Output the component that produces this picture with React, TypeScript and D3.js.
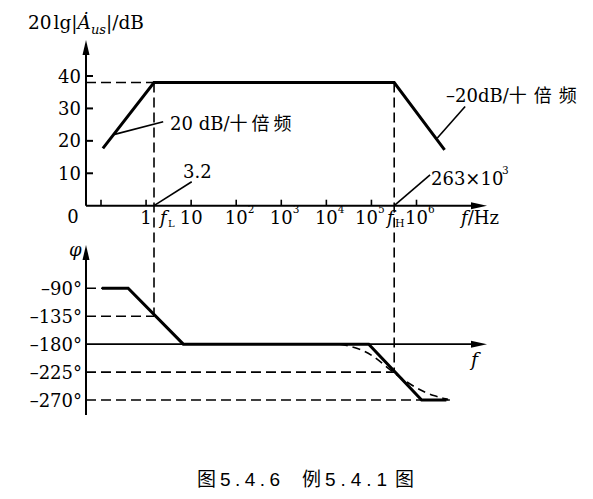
import React from "react";
import * as d3 from "d3";

// ---- data ----
const freqTicks = [0.1, 1, 10, 100, 1e3, 1e4, 1e5, 1e6];
const freqTickBase = ["", "1", "10", "10", "10", "10", "10", "10"];
const freqTickExp = ["", "", "", "2", "3", "4", "5", "6"];
const gainTicks = [10, 20, 30, 40];
const phaseTicks = [-90, -135, -180, -225, -270];
const phaseTickLabels = ["\u201390°", "\u2013135°", "\u2013180°", "\u2013225°", "\u2013270°"];

// drawn (not-to-scale) corner frequencies
const fL = 1.5;
const fH = 3.2e5;
const midbandGain = 38;

// asymptotic magnitude
const gainFreq = [0.11, fL, fH, 4.2e6];
const gainDb = [17.7, 38, 38, 17.2];

// asymptotic phase
const phaseFreq = [0.105, 0.4, 6.7, 8.7e4, 1.3e6, 4.6e6];
const phaseDeg = [-90, -90, -180, -180, -270, -270];

// actual (smooth) phase at high frequency, dashed
const phaseSmoothFreq = [2e4, 5e4, 1.1e5, 2.9e5, 1e6, 2.5e6, 5e6];
const phaseSmoothDeg = [-180, -186, -198, -225, -252, -264, -269];

const W = 593;
const H = 499;
const serif = "'DejaVu Serif', 'Liberation Serif', serif";
const cjk = "'Noto Sans CJK SC', sans-serif";
const sans = "'Liberation Sans', 'DejaVu Sans', sans-serif";

export default function App() {
  const x = d3.scaleLog().domain([0.1, 1e6]).range([101, 416.5]);
  const yG = d3.scaleLinear().domain([0, 40]).range([205.7, 76]);
  const yP = d3.scaleLinear().domain([-90, -270]).range([288.3, 400]);

  const axisX = 86;
  const xEnd = 487;

  const gainLine = d3
    .line<number>()
    .x((_, i) => x(gainFreq[i]))
    .y((d) => yG(d))(gainDb) as string;

  const phaseLine = d3
    .line<number>()
    .x((_, i) => x(phaseFreq[i]))
    .y((d) => yP(d))(phaseDeg) as string;

  const phaseSmooth = d3
    .line<number>()
    .curve(d3.curveBasis)
    .x((_, i) => x(phaseSmoothFreq[i]))
    .y((d) => yP(d))(phaseSmoothDeg) as string;

  const arrowUp = (cx: number, tip: number) =>
    `M${cx},${tip} L${cx - 3.5},${tip + 15} L${cx + 3.5},${tip + 15} Z`;
  const arrowRight = (tip: number, cy: number) =>
    `M${tip},${cy} L${tip - 16},${cy - 3.5} L${tip - 16},${cy + 3.5} Z`;

  const dash = "10,5";
  const ink = "#000";
  const fs = 18;

  return (
    <svg
      width={W}
      height={H}
      style={{ position: "absolute", left: 0, top: 0, background: "#fff" }}
      fontFamily={serif}
    >
      <rect x={0} y={0} width={W} height={H} fill="#fff" />

      {/* ===== magnitude plot ===== */}
      <text x={28} y={29} fontSize={18.5} fill={ink}>
        <tspan>20</tspan>
        <tspan dx={2}>lg|</tspan>
        <tspan fontStyle="italic">{"\u0226"}</tspan>
        <tspan fontStyle="italic" fontSize={13} dy={5}>us</tspan>
        <tspan dy={-5}>|/dB</tspan>
      </text>

      {/* axes */}
      <line x1={axisX} y1={yG(0)} x2={axisX} y2={50} stroke={ink} strokeWidth={2} />
      <path d={arrowUp(axisX, 40)} fill={ink} />
      <line x1={axisX} y1={yG(0)} x2={xEnd - 10} y2={yG(0)} stroke={ink} strokeWidth={2} />
      <path d={arrowRight(xEnd, yG(0))} fill={ink} />

      {/* gain ticks */}
      {gainTicks.map((t) => (
        <g key={"g" + t}>
          <line x1={axisX} x2={axisX + 7} y1={yG(t)} y2={yG(t)} stroke={ink} strokeWidth={2} />
          <text x={81} y={yG(t) + 6.5} fontSize={fs} textAnchor="end" fill={ink}>
            {t}
          </text>
        </g>
      ))}
      <text x={73} y={223} fontSize={fs} textAnchor="middle" fill={ink}>
        0
      </text>

      {/* frequency ticks */}
      {freqTicks.map((f, i) => {
        const shift = freqTickExp[i] === "5" ? -5 : 0;
        return (
          <g key={"f" + f}>
            <line x1={x(f)} x2={x(f)} y1={yG(0)} y2={yG(0) - 6} stroke={ink} strokeWidth={1.6} />
            {freqTickBase[i] && (
              <text x={x(f) + shift} y={223.5} fontSize={fs} textAnchor="middle" fill={ink}>
                {freqTickBase[i]}
              </text>
            )}
            {freqTickExp[i] && (
              <text x={x(f) + shift + 11.5} y={213} fontSize={10.5} fill={ink}>
                {freqTickExp[i]}
              </text>
            )}
          </g>
        );
      })}
      {/* f_L, f_H labels */}
      <text x={160} y={223.5} fontSize={fs} fontStyle="italic" fill={ink}>
        f
      </text>
      <text x={168} y={227} fontSize={10} fill={ink}>
        L
      </text>
      <text x={387} y={223.5} fontSize={fs} fontStyle="italic" fill={ink}>
        f
      </text>
      <text x={395} y={227} fontSize={11} fill={ink}>
        H
      </text>
      <text x={461} y={223.5} fontSize={fs} fill={ink}>
        <tspan fontStyle="italic">f</tspan>
        <tspan>/Hz</tspan>
      </text>

      {/* dashed reference lines (magnitude) */}
      <line x1={axisX} x2={x(fL)} y1={yG(midbandGain)} y2={yG(midbandGain)} stroke={ink} strokeWidth={1.6} strokeDasharray={dash} />
      <line x1={x(fL)} x2={x(fL)} y1={yG(midbandGain)} y2={yP(-135)} stroke={ink} strokeWidth={1.6} strokeDasharray={dash} />
      <line x1={x(fH)} x2={x(fH)} y1={yG(midbandGain)} y2={yP(-225)} stroke={ink} strokeWidth={1.6} strokeDasharray={dash} />

      {/* magnitude asymptote */}
      <path d={gainLine} fill="none" stroke={ink} strokeWidth={3} strokeLinejoin="miter" />

      {/* annotations */}
      <line x1={x(0.2)} y1={yG(22)} x2={x(2.4)} y2={yG(25.9)} stroke={ink} strokeWidth={1.6} />
      <text x={170} y={130} fontSize={fs} fill={ink}>
        <tspan>20 dB/</tspan>
        <tspan fontFamily={cjk} fontSize={18} letterSpacing={4}>十倍频</tspan>
      </text>

      <line x1={x(fL)} y1={yG(0)} x2={x(10.3)} y2={yG(7.4)} stroke={ink} strokeWidth={1.6} />
      <text x={183} y={178} fontSize={fs} fill={ink}>
        3.2
      </text>

      <line x1={x(fH)} y1={yG(0)} x2={x(2.0e6)} y2={yG(9.5)} stroke={ink} strokeWidth={1.6} />
      <text x={431} y={185} fontSize={fs} fill={ink}>
        263×10
      </text>
      <text x={502} y={174} fontSize={10.5} fill={ink}>
        3
      </text>

      <line x1={x(2.9e6)} y1={yG(20.9)} x2={x(1.2e7)} y2={yG(30.6)} stroke={ink} strokeWidth={1.6} />
      <text x={446} y={102} fontSize={fs} fill={ink}>
        <tspan>{"\u201320dB/"}</tspan>
        <tspan fontFamily={cjk} fontSize={18} letterSpacing={7}>十倍频</tspan>
      </text>

      {/* ===== phase plot ===== */}
      <text x={69} y={256} fontSize={18} fontStyle="italic" fill={ink}>
        φ
      </text>
      <line x1={axisX} y1={415} x2={axisX} y2={256} stroke={ink} strokeWidth={2} />
      <path d={arrowUp(axisX, 245)} fill={ink} />
      <line x1={axisX} y1={yP(-180)} x2={xEnd - 10} y2={yP(-180)} stroke={ink} strokeWidth={1.6} />
      <path d={arrowRight(xEnd, yP(-180))} fill={ink} />
      <text x={471} y={366} fontSize={19} fontStyle="italic" fill={ink}>
        f
      </text>

      {phaseTicks.map((p, i) => (
        <text key={"p" + p} x={82} y={yP(p) + 6.5} fontSize={fs} textAnchor="end" fill={ink}>
          {phaseTickLabels[i]}
        </text>
      ))}

      {/* phase dashed references */}
      <line x1={axisX} x2={x(0.105)} y1={yP(-90)} y2={yP(-90)} stroke={ink} strokeWidth={1.6} strokeDasharray={dash} />
      <line x1={axisX} x2={x(fL)} y1={yP(-135)} y2={yP(-135)} stroke={ink} strokeWidth={1.6} strokeDasharray={dash} />
      <line x1={axisX} x2={x(fH)} y1={yP(-225)} y2={yP(-225)} stroke={ink} strokeWidth={1.6} strokeDasharray={dash} />
      <line x1={axisX} x2={x(5.5e6)} y1={yP(-270)} y2={yP(-270)} stroke={ink} strokeWidth={1.6} strokeDasharray={dash} />

      <path d={phaseSmooth} fill="none" stroke={ink} strokeWidth={1.6} strokeDasharray="8,5" />
      <path d={phaseLine} fill="none" stroke={ink} strokeWidth={3} />

      {/* caption */}
      <g fontSize={19} fill={ink}>
        <text x={197} y={486} fontFamily={cjk}>图</text>
        <text x={220} y={486} fontFamily={sans} textLength={60} lengthAdjust="spacing">5.4.6</text>
        <text x={302} y={486} fontFamily={cjk}>例</text>
        <text x={325} y={486} fontFamily={sans} textLength={62} lengthAdjust="spacing">5.4.1</text>
        <text x={395} y={486} fontFamily={cjk}>图</text>
      </g>
    </svg>
  );
}
